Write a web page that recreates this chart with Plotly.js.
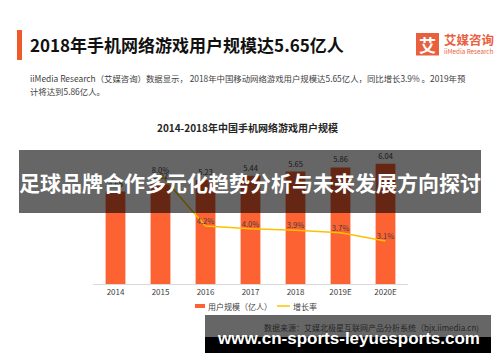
<!DOCTYPE html>
<html>
<head>
<meta charset="utf-8">
<script src="https://cdn.plot.ly/plotly-3.0.1.min.js"></script>
<style>html,body{margin:0;padding:0;background:#fff;}#chart{width:500px;height:362px;}</style>
</head>
<body>
<div id="chart"></div>
<script>
// ---- data ----
const categories = ['2014', '2015', '2016', '2017', '2018', '2019E', '2020E'];
const users = [4.65, 5.02, 5.23, 5.44, 5.65, 5.86, 6.04];          // 用户规模（亿人）
const growth = [null, 8.0, 4.2, 4.0, 3.9, 3.7, 3.1];                // 增长率 (%)
const userLabels = users.map(v => v.toFixed(2));
const growthLabels = growth.map(v => v === null ? '' : v.toFixed(1) + '%');

const seriesNames = ['用户规模（亿人）', '增长率'];
const headerTitle = '2018年手机网络游戏用户规模达5.65亿人';
const bodyLine1 = 'iiMedia Research（艾媒咨询）数据显示， 2018年中国移动网络游戏用户规模达5.65亿人，同比增长3.9% 。2019年预';
const bodyLine2 = '计将达到5.86亿人。';
const chartTitle = '2014-2018年中国手机网络游戏用户规模';
const sourceText = '数据来源：艾媒北极星互联网产品分析系统（bjx.iimedia.cn)';
const overlayTitle = '足球品牌合作多元化趋势分析与未来发展方向探讨';
const watermark = 'www.cn-sports-leyuesports.com';

// ---- helpers: pixel -> paper (margins are 0, so paper == full figure) ----
const W = 500, H = 362;
const px = x => x / W;
const py = y => 1 - y / H;

const CJK = '"Noto Sans CJK SC", "Noto Sans", sans-serif';
const ORANGE = '#fc6232';
const GOLD = '#ffc000';
const LOGO = '#e9603e';

const traces = [
  {
    type: 'bar', x: categories, y: users, name: seriesNames[0],
    marker: {color: ORANGE},
    text: userLabels, textposition: 'outside', constraintext: 'none',
    textfont: {family: CJK, size: 7.5, color: '#404040'},
    cliponaxis: false, hoverinfo: 'skip'
  },
  {
    type: 'scatter', mode: 'lines+text', x: categories, y: growth, yaxis: 'y2',
    name: seriesNames[1],
    line: {color: GOLD, width: 1.5},
    text: growthLabels, textposition: 'top center',
    textfont: {family: CJK, size: 7.5, color: '#404040'},
    cliponaxis: false, hoverinfo: 'skip'
  }
];

const shapes = [
  // header accent bar
  {type: 'rect', xref: 'paper', yref: 'paper', x0: px(17), x1: px(22), y0: py(60), y1: py(30),
   fillcolor: '#f05a28', line: {width: 0}},
  // logo square
  {type: 'rect', xref: 'paper', yref: 'paper', x0: px(416), x1: px(439), y0: py(55.5), y1: py(33),
   fillcolor: LOGO, line: {width: 0}},
  // legend symbols
  {type: 'rect', xref: 'paper', yref: 'paper', x0: px(195), x1: px(205), y0: py(308), y1: py(304),
   fillcolor: ORANGE, line: {width: 0}},
  {type: 'line', xref: 'paper', yref: 'paper', x0: px(277), x1: px(290), y0: py(306), y1: py(306),
   line: {color: GOLD, width: 1.5}},
  // dark overlay band over the chart
  {type: 'rect', xref: 'paper', yref: 'paper', layer: 'above', x0: px(19), x1: px(481), y0: py(213), y1: py(150),
   fillcolor: 'rgba(0,0,0,0.6)', line: {width: 0}},
  // bottom grey band + black box
  {type: 'rect', xref: 'paper', yref: 'paper', layer: 'above', x0: px(205), x1: px(491), y0: py(337), y1: py(315),
   fillcolor: 'rgba(0,0,0,0.6)', line: {width: 0}},
  {type: 'rect', xref: 'paper', yref: 'paper', layer: 'above', x0: px(205), x1: px(491), y0: py(353), y1: py(337),
   fillcolor: '#000000', line: {width: 0}}
];

function ann(text, x, y, size, color, opts) {
  return Object.assign({
    text: text, xref: 'paper', yref: 'paper', x: px(x), y: py(y),
    xanchor: 'left', yanchor: 'middle', showarrow: false,
    font: {family: CJK, size: size, color: color}
  }, opts || {});
}

const annotations = [
  ann('<b>' + headerTitle + '</b>', 28, 45, 17, '#111111'),
  ann('<b>艾</b>', 427.5, 44.5, 17, '#ffffff', {xanchor: 'center'}),
  ann('<b>艾媒咨询</b>', 442, 40, 12.5, LOGO),
  ann('iiMedia Research', 442, 52, 6.3, LOGO),
  ann(bodyLine1, 28, 78, 8.4, '#404040'),
  ann(bodyLine2, 28, 91, 8.4, '#404040'),
  ann('<b>' + chartTitle + '</b>', 247, 127, 10, '#262626', {xanchor: 'center'}),
  ann(seriesNames[0], 206, 306, 8, '#404040'),
  ann(seriesNames[1], 291, 306, 8, '#404040'),
  ann(sourceText, 481, 327, 8, '#262626', {xanchor: 'right'}),
  ann('<b>' + overlayTitle + '</b>', 250, 182, 21, '#ffffff', {xanchor: 'center'}),
  ann('<b>' + watermark + '</b>', 348, 338, 17, '#ffffff',
      {xanchor: 'center', font: {family: '"Liberation Sans", Arial, sans-serif', size: 17, color: '#ffffff'}})
];

const layout = {
  width: W, height: H,
  margin: {l: 0, r: 0, t: 0, b: 0},
  paper_bgcolor: '#ffffff', plot_bgcolor: '#ffffff',
  showlegend: false,
  bargap: 0.56,
  font: {family: CJK, size: 8, color: '#404040'},
  xaxis: {
    domain: [93 / W, 408 / W], type: 'category',
    showline: true, linecolor: '#d9d9d9', linewidth: 1,
    showgrid: false, zeroline: false, ticks: '',
    tickfont: {family: CJK, size: 8, color: '#404040'}, fixedrange: true
  },
  yaxis: {
    domain: [(H - 284) / H, (H - 140) / H],
    range: [0, 7.24], visible: false, fixedrange: true
  },
  yaxis2: {
    overlaying: 'y', side: 'right',
    range: [-0.06, 10.53], visible: false, fixedrange: true
  },
  shapes: shapes,
  annotations: annotations
};

Plotly.newPlot('chart', traces, layout, {displayModeBar: false, staticPlot: true});
</script>
</body>
</html>
